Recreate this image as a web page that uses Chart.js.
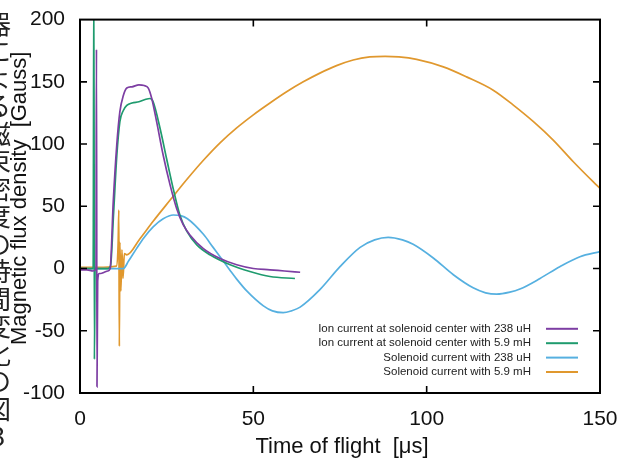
<!DOCTYPE html>
<html>
<head>
<meta charset="utf-8">
<script src="https://cdn.jsdelivr.net/npm/chart.js@4.4.1/dist/chart.umd.min.js"></script>
<style>
  html, body { margin: 0; padding: 0; background: #fff; overflow: hidden; }
  canvas { display: block; }
</style>
</head>
<body>
<canvas id="grafica" width="630" height="461"></canvas>
<script>
// time axis [us] and flux density [Gauss] per trace
const ion238X = [0, 2, 3.8, 4.6, 4.75, 4.9, 5.1, 5.5, 6, 7, 8, 8.7, 9.6, 10.6, 11.5, 12.5, 13.5, 15, 17, 18.5, 19.7,
  20.7, 22.1, 24, 26, 27.9, 29.8, 31.7, 35.6, 40.4, 45.2, 50, 54.8, 59, 63.5];
const ion238Y = [-1, -1, -2, 0, 176, -95, -10, -4, -4, -3, -2, 0, 54, 99, 126, 139, 145, 146, 147.5, 147, 145,
  136.6, 118, 91, 67, 48, 35, 27, 16, 8, 3, 0, -1, -2, -3];

const ion59X = [0, 3.8, 4.0, 4.15, 4.35, 6, 8, 8.8, 9.7, 10.6, 11.5, 12.5, 13.5, 15, 17, 19, 20.2, 21.1,
  23.1, 25, 26.9, 28.8, 30.8, 33.7, 37.5, 43.3, 49, 54.8, 62];
const ion59Y = [0, 0, 240, -73, 0, 0, 0, 2, 45, 90, 118, 127, 131, 133, 134, 136, 136.6, 134,
  112.5, 88, 64, 43, 30, 19, 11, 3, -2.4, -6.4, -8];

const sol238X = [0, 12.5, 14, 16.3, 18.5, 21.1, 24, 26.9, 29, 31, 35.6, 38.4, 40.4, 43.3, 45.2, 48.1, 52.9, 55.5,
  58.6, 61, 63.5, 69.2, 75, 80.8, 85, 88.9, 93, 96.1, 101.9, 107.7, 113.4, 117, 120.2, 124, 126.9, 132.7,
  138.4, 144.2, 150];
const sol238Y = [0, 0, 6, 16, 25, 33.5, 40, 43, 42.5, 40, 27.5, 17, 9.5, -1.5, -8.5, -18, -30, -34,
  -35.5, -34, -31, -17, 1.5, 17, 23, 25, 23, 19.5, 8.5, -5, -15.5, -19.5, -20.6, -19, -16.5, -8,
  1.5, 9.5, 13.6];

const sol59X = [0, 5, 10.5, 11.0, 11.2, 11.35, 11.5, 11.8, 12.1, 12.4, 12.8, 13.5, 17.3, 21.1, 26, 30.8, 35.6,
  40.4, 45.2, 50, 54.8, 59.6, 64.4, 69.2, 74, 78.8, 83.6, 88, 92, 97.1, 104.8, 111.5, 119.2, 125, 130.8,
  136.5, 142.3, 148, 150];
const sol59Y = [1, 1, 2, 20, 47, -62.5, 21, -18, 15, -8, 12, 11, 24, 38, 55, 71.5, 87,
  101, 113, 123.5, 133, 142, 150, 157, 163, 167.5, 170, 170.5, 170, 168, 162, 154, 143.3, 131.3, 118,
  103.2, 85.8, 69.8, 64.4];

const xTicks = [0, 50, 100, 150];
const yTicks = [-100, -50, 0, 50, 100, 150, 200];

const seriesNames = [
  "Ion current at solenoid center with 238 uH",
  "Ion current at solenoid center with 5.9 mH",
  "Solenoid current with 238 uH",
  "Solenoid current with 5.9 mH"
];
const colores = ["#7d3ea3", "#1f9b6e", "#56b0e0", "#e0982e"];

// running text of the page column beside the figure
const columna = "器による磁束密度の時間変化の図3";

const FONT = "'Liberation Sans', Arial, sans-serif";

function serie(xs, ys, i) {
  return {
    label: seriesNames[i],
    data: xs.map((x, k) => ({ x: x, y: ys[k] })),
    borderColor: colores[i],
    backgroundColor: colores[i],
    borderWidth: 1.7,
    pointRadius: 0,
    fill: false,
    cubicInterpolationMode: "monotone"
  };
}

// frame with inward ticks on all four sides
const marco = {
  id: "marco",
  afterDatasetsDraw(chart) {
    const { ctx, chartArea: a, scales } = chart;
    ctx.save();
    ctx.strokeStyle = "#000";
    ctx.lineWidth = 2;
    ctx.strokeRect(a.left, a.top, a.right - a.left, a.bottom - a.top);
    ctx.lineWidth = 1.6;
    ctx.beginPath();
    xTicks.slice(1, -1).forEach(v => {
      const px = scales.x.getPixelForValue(v);
      ctx.moveTo(px, a.bottom); ctx.lineTo(px, a.bottom - 7);
      ctx.moveTo(px, a.top); ctx.lineTo(px, a.top + 7);
    });
    yTicks.slice(1, -1).forEach(v => {
      const py = scales.y.getPixelForValue(v);
      ctx.moveTo(a.left, py); ctx.lineTo(a.left + 7, py);
      ctx.moveTo(a.right, py); ctx.lineTo(a.right - 7, py);
    });
    ctx.stroke();
    ctx.restore();
  }
};

// key in the lower right: text right aligned, sample line after it
const leyenda = {
  id: "leyenda",
  afterDraw(chart) {
    const { ctx, chartArea: a } = chart;
    const lineEnd = a.right - 22;
    const lineStart = lineEnd - 32;
    const textRight = lineStart - 15;
    ctx.save();
    ctx.font = "11.5px " + FONT;
    ctx.textAlign = "right";
    ctx.textBaseline = "middle";
    chart.data.datasets.forEach((ds, i) => {
      const y = a.bottom - 21 - (3 - i) * 14.4;
      ctx.fillStyle = "#222";
      ctx.fillText(ds.label, textRight, y);
      ctx.strokeStyle = ds.borderColor;
      ctx.lineWidth = 2;
      ctx.beginPath();
      ctx.moveTo(lineStart, y); ctx.lineTo(lineEnd, y);
      ctx.stroke();
    });
    ctx.restore();
  }
};

// axis titles and the cut-off vertical text at the left edge
const titulos = {
  id: "titulos",
  afterDraw(chart) {
    const { ctx, chartArea: a } = chart;
    ctx.save();
    ctx.fillStyle = "#222";
    ctx.font = "26px 'Noto Sans CJK JP'";
    ctx.textAlign = "center";
    ctx.textBaseline = "middle";
    Array.from(columna).forEach((ch, k) => ctx.fillText(ch, -2, 24 + k * 27.5));

    ctx.fillStyle = "#111";
    ctx.font = "22px " + FONT;
    ctx.fillText("Time of flight  [\u03bcs]", (a.left + a.right) / 2 + 2, 447);
    ctx.translate(20, (a.top + a.bottom) / 2 - 8);
    ctx.rotate(-Math.PI / 2);
    ctx.fillText("Magnetic flux density  [Gauss]", 0, 0);
    ctx.restore();
  }
};

const config = {
  type: "line",
  data: {
    datasets: [
      serie(ion238X, ion238Y, 0),
      serie(ion59X, ion59Y, 1),
      serie(sol238X, sol238Y, 2),
      serie(sol59X, sol59Y, 3)
    ]
  },
  options: {
    responsive: false,
    animation: false,
    layout: { padding: { top: 18, right: 30, left: 0, bottom: 0 } },
    plugins: { legend: { display: false }, tooltip: { enabled: false } },
    scales: {
      x: {
        type: "linear", min: 0, max: 150,
        afterBuildTicks: s => { s.ticks = xTicks.map(v => ({ value: v })); },
        afterFit: s => { s.height = 68; },
        grid: { display: false }, border: { display: false },
        ticks: { font: { family: FONT, size: 21 }, color: "#111", padding: 6, maxRotation: 0 }
      },
      y: {
        type: "linear", min: -100, max: 200,
        afterBuildTicks: s => { s.ticks = yTicks.map(v => ({ value: v })); },
        afterFit: s => { s.width = 80; },
        grid: { display: false }, border: { display: false },
        ticks: { font: { family: FONT, size: 21 }, color: "#111", padding: 7 }
      }
    }
  },
  plugins: [marco, leyenda, titulos]
};

new Chart(document.getElementById("grafica"), config);
</script>
</body>
</html>
